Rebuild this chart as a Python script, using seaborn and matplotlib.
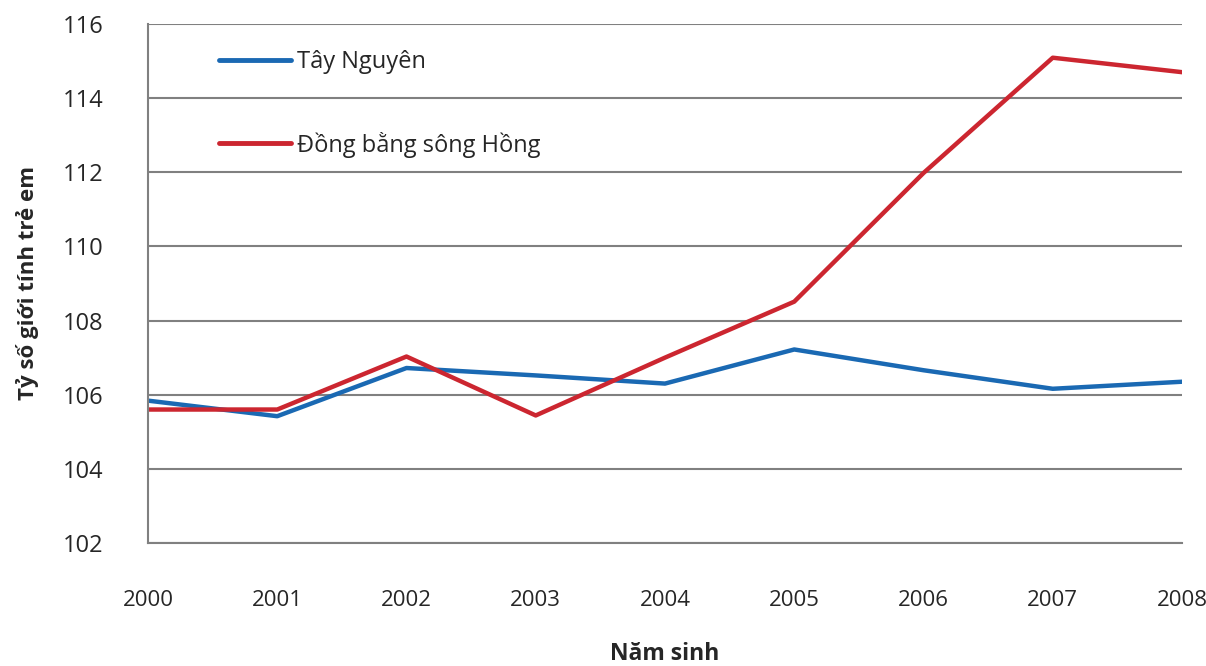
import matplotlib
matplotlib.use('Agg')
import matplotlib.pyplot as plt
import numpy as np
import seaborn as sns
import pandas as pd

years = [2000, 2001, 2002, 2003, 2004, 2005, 2006, 2007, 2008]
tay_nguyen = [105.84, 105.42, 106.72, 106.52, 106.30, 107.22, 106.66, 106.16, 106.35]
dong_bang = [105.60, 105.60, 107.03, 105.44, 107.00, 108.51, 111.98, 115.09, 114.70]
series_names = ['Tây Nguyên', 'Đồng bằng sông Hồng']
y_ticks = [102, 104, 106, 108, 110, 112, 114, 116]

df = pd.DataFrame({
    'year': years * 2,
    'value': tay_nguyen + dong_bang,
    'series': [series_names[0]] * len(years) + [series_names[1]] * len(years),
})

sns.set_style('white')
plt.rcParams['font.family'] = ['Open Sans', 'DejaVu Sans']

fig = plt.figure(figsize=(12.06, 6.66), dpi=100)
ax = fig.add_axes([0.1227, 0.1847, 0.8574, 0.7793])

grey = '#808080'
sns.lineplot(data=df, x='year', y='value', hue='series',
             palette=['#1a69b3', '#cc2630'], linewidth=3.2, ax=ax)

ax.set_xlim(2000, 2008)
ax.set_ylim(102, 116)
ax.set_xticks(years)
ax.set_yticks(y_ticks)
ax.yaxis.grid(True, color=grey, linewidth=1.5)
ax.set_axisbelow(True)
for s in ['top', 'right']:
    ax.spines[s].set_visible(False)
for s in ['left', 'bottom']:
    ax.spines[s].set_color(grey)
    ax.spines[s].set_linewidth(1.5)

ax.tick_params(axis='y', length=9, width=1.5, color=grey, pad=23, labelsize=17)
ax.tick_params(axis='x', length=7, width=1.2, color=grey, pad=27, labelsize=16)

ax.set_xlabel('Năm sinh', fontsize=16.5, fontweight='bold', labelpad=22)
ax.set_ylabel('Tỷ số giới tính trẻ em', fontsize=16, fontweight='bold', labelpad=17)

leg = ax.legend(loc='upper left', bbox_to_anchor=(0.048, 0.99), frameon=False,
                fontsize=17, handlelength=3.05, handletextpad=0.25, labelspacing=2.42)
for line in leg.get_lines():
    line.set_linewidth(3.5)

fig.savefig('out.png', dpi=100)
